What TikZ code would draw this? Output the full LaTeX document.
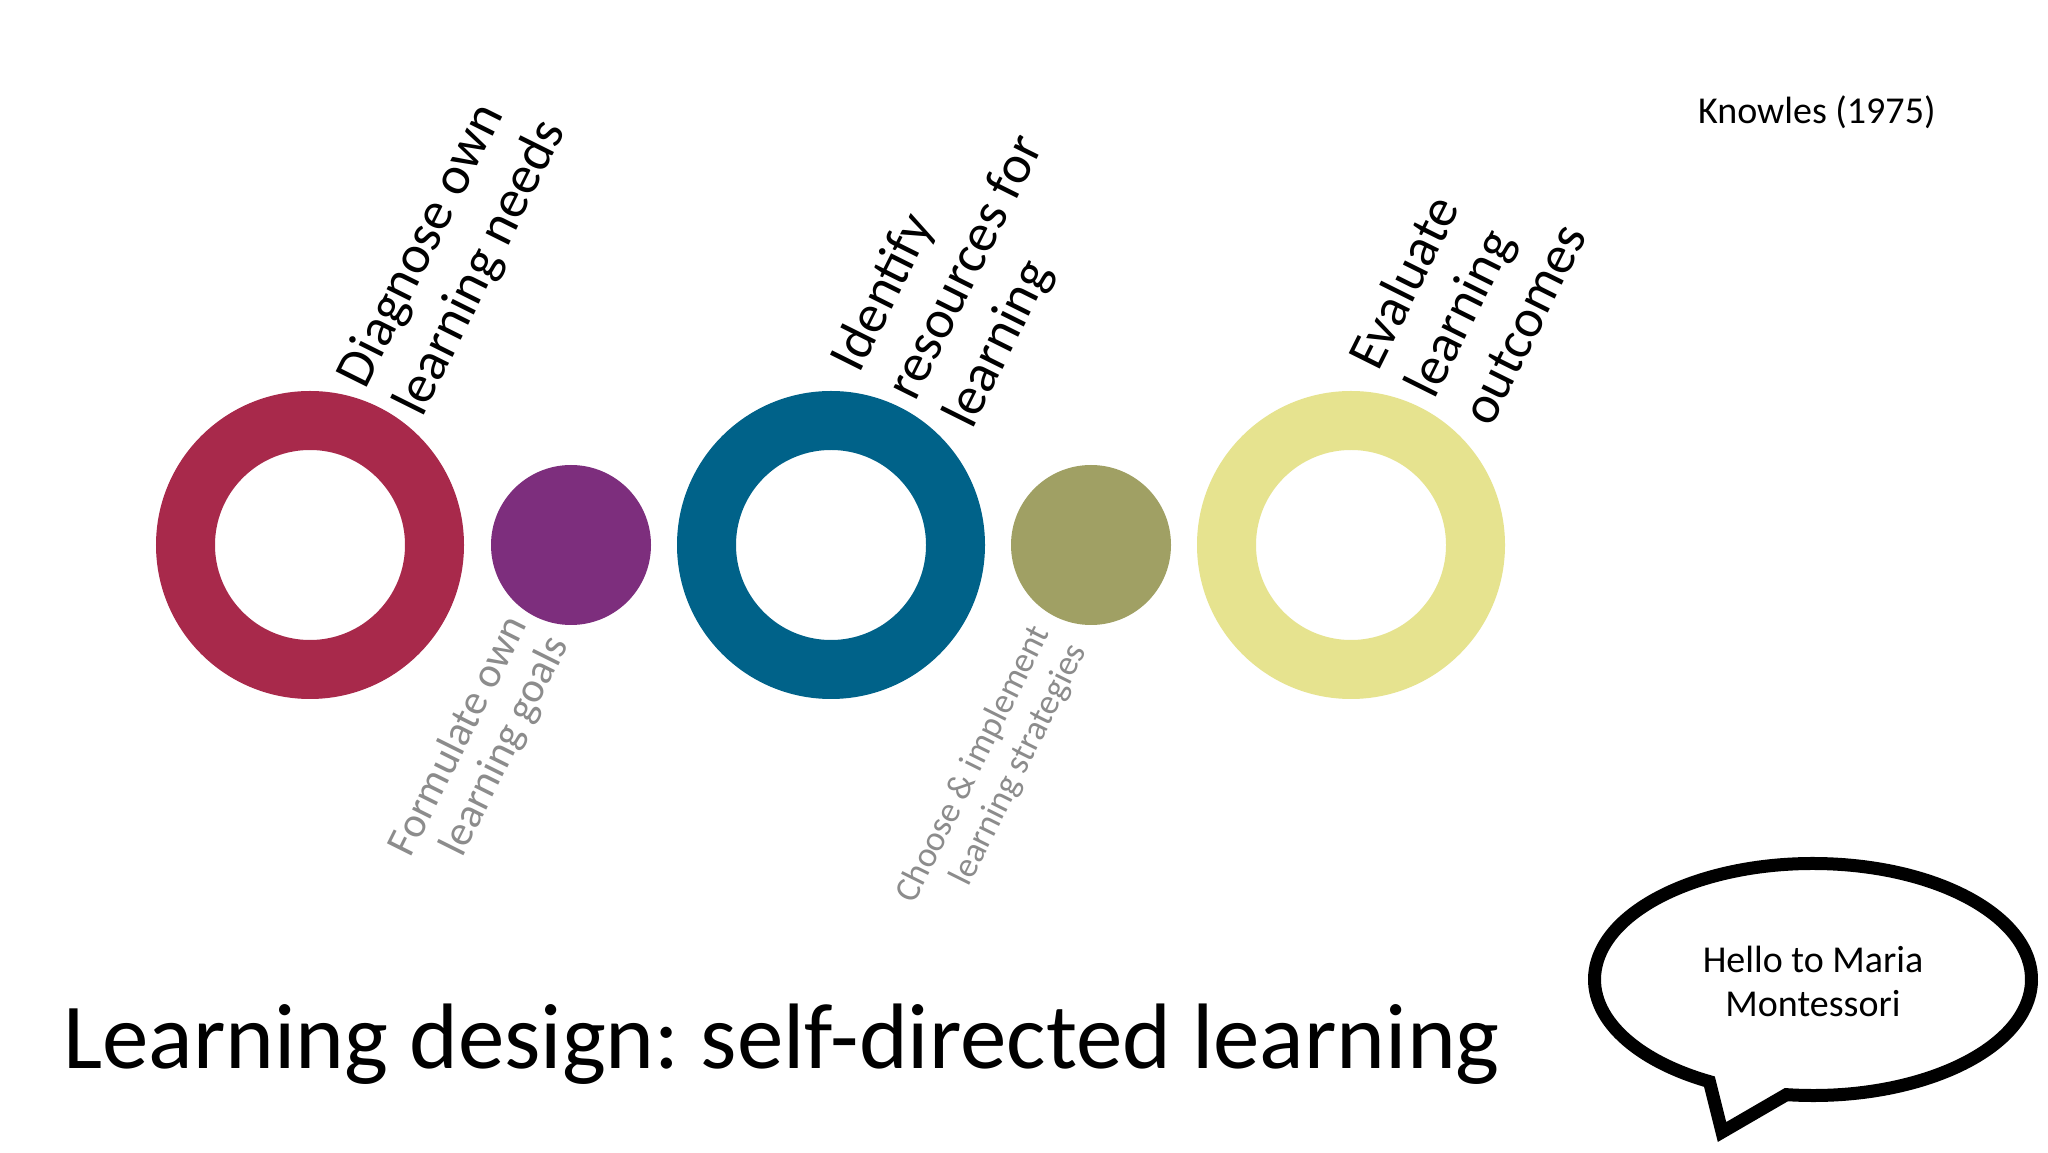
\documentclass[tikz,border=0pt]{standalone}
\usepackage{fontspec}
\setmainfont{Carlito}
\frenchspacing
\definecolor{ringred}{HTML}{A8294B}
\definecolor{dotpurple}{HTML}{7D2E7D}
\definecolor{ringblue}{HTML}{006289}
\definecolor{dotolive}{HTML}{A0A064}
\definecolor{ringyellow}{HTML}{E6E38F}
\definecolor{labelgray}{HTML}{8C8C8C}
\begin{document}
\begin{tikzpicture}[x=1pt,y=1pt,
  ring/.style={circle, draw=#1, line width=59pt, minimum size=249pt, inner sep=0pt},
  dot/.style={circle, fill=#1, minimum size=160pt, inner sep=0pt},
  toplabel/.style={rotate=63.5, anchor=base west, inner sep=0pt, align=left,
    font=\fontsize{54}{63}\selectfont, text=black},
  sublabel/.style={rotate=63.5, anchor=base west, inner sep=0pt, align=right, text=labelgray}]
\useasboundingbox[fill=white] (0,0) rectangle (2048,1152);
% circles
\node[ring=ringred]    (r1) at (310,607) {};
\node[dot=dotpurple]   (d1) at (571,607) {};
\node[ring=ringblue]   (r2) at (831,607) {};
\node[dot=dotolive]    (d2) at (1091,607) {};
\node[ring=ringyellow] (r3) at (1351,607) {};
% top labels
\node[toplabel] (l1) at (422,733) {Diagnose own\\learning needs};
\node[toplabel] (l2) at (972,721) {Identify\\resources for\\learning};
\node[toplabel] (l3) at (1491,723) {Evaluate\\learning\\outcomes};
% lower labels
\node[sublabel, font=\fontsize{42.5}{46}\selectfont] (s1) at (452,273) {Formulate own\\learning goals};
\node[sublabel, font=\fontsize{35.5}{41}\selectfont] (s2) at (951,229) {Choose \& implement\\learning strategies};
% title and reference
\node[anchor=base west, inner sep=0pt, font=\fontsize{93}{110}\selectfont] (title) at (63,84) {Learning design: self-directed learning};
\node[anchor=base west, inner sep=0pt, font=\fontsize{38}{44}\selectfont] (ref) at (1698,1028) {Knowles (1975)};
% speech bubble
\draw[line width=13pt, line join=miter, fill=white] (1813,172.5) ++(263:218.5pt and 116pt)
  arc[start angle=263, end angle=601.7, x radius=218.5pt, y radius=116pt]
  -- (1722,20) -- cycle;
\node[align=center, inner sep=0pt, font=\fontsize{38}{44}\selectfont] (hello) at (1813,171) {Hello to Maria\\Montessori};
\end{tikzpicture}
\end{document}
